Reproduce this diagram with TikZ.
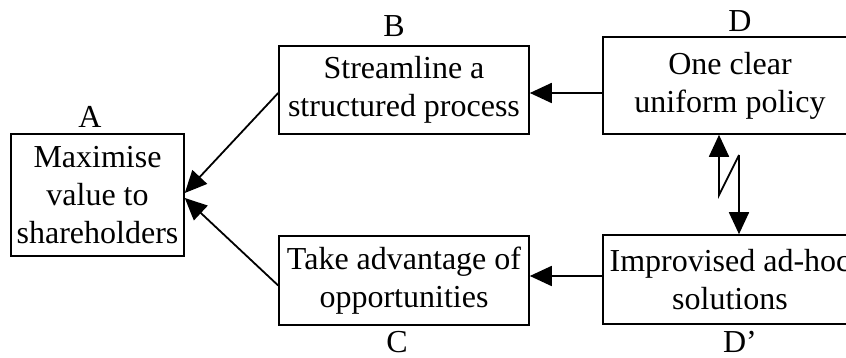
\documentclass[tikz,border=0pt]{standalone}
\usepackage{fontspec}
\setmainfont{Liberation Serif}
\usetikzlibrary{arrows.meta}
\begin{document}
\begin{tikzpicture}[x=1pt,y=1pt,
  box/.style={draw,line width=1.6pt,align=center,inner sep=0pt,
    font=\fontsize{32}{38}\selectfont},
  lbl/.style={inner sep=0pt,font=\fontsize{32}{38}\selectfont},
  conn/.style={line width=1.8pt,-{Triangle[length=22pt,width=20pt]}}]
\useasboundingbox (0,0) rectangle (846,358);
\clip (0,0) rectangle (846,358);
\fill[white] (0,0) rectangle (846,358);
\node[box,minimum width=173pt,minimum height=122pt] (A) at (97.5,163) {Maximise\\value to\\shareholders};
\node[box,minimum width=250pt,minimum height=88pt] (B) at (404,268) {Streamline a\\structured process};
\node[box,minimum width=250pt,minimum height=89pt] (C) at (404,77.5) {Take advantage of\\opportunities};
\node[box,minimum width=254pt,minimum height=97pt] (D) at (730,272.5) {One clear\\uniform policy};
\node[box,minimum width=254pt,minimum height=89pt] (Dp) at (730,78.5) {Improvised ad-hoc\\solutions};
\node[lbl] (lA) at (90,241) {A};
\node[lbl] (lB) at (394,332) {B};
\node[lbl] (lC) at (397,16) {C};
\node[lbl] (lD) at (740,337) {D};
\node[lbl] (lDp) at (740,16) {D’};
\draw[conn] ([yshift=-3pt]B.west) -- ([yshift=2pt]A.east);
\draw[conn] ([yshift=-5pt]C.west) -- ([yshift=-3pt]A.east);
\draw[conn] ([yshift=-3pt]D.west |- B.east) -- ([yshift=-3pt]B.east);
\draw[conn] ([yshift=4.5pt]Dp.west |- C.east) -- ([yshift=4.5pt]C.east);
\coordinate (z1) at (719,163);
\coordinate (z2) at (739,203);
\draw[line width=1.8pt,{Triangle[length=22pt,width=20pt]}-] (D.south -| z1) -- (z1) -- (z2);
\draw[line width=1.8pt,-{Triangle[length=22pt,width=20pt]}] (z2) -- (z2 |- Dp.north);
\end{tikzpicture}
\end{document}
